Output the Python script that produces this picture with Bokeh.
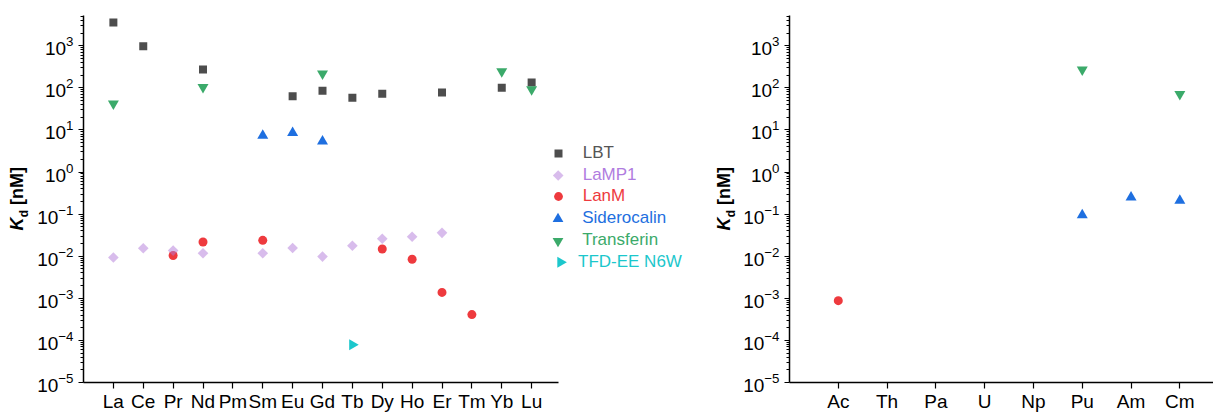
import math
from bokeh.plotting import figure
from bokeh.layouts import row
from bokeh.models import (FixedTicker, LogTickFormatter, Label, Legend, LegendItem, Range1d,
                          LinearScale)
from bokeh.embed import file_html
from bokeh.resources import INLINE

# ---------------- data ----------------
ln_elements = ["La", "Ce", "Pr", "Nd", "Pm", "Sm", "Eu", "Gd", "Tb", "Dy", "Ho", "Er", "Tm", "Yb", "Lu"]
an_elements = ["Ac", "Th", "Pa", "U", "Np", "Pu", "Am", "Cm"]

lbt_el = ["La", "Ce", "Nd", "Eu", "Gd", "Tb", "Dy", "Er", "Yb", "Lu"]
lbt_kd = [3600, 980, 272, 63, 85, 58, 73, 78, 101, 135]

lamp1_el = ["La", "Ce", "Pr", "Nd", "Sm", "Eu", "Gd", "Tb", "Dy", "Ho", "Er"]
lamp1_kd = [0.0093, 0.0155, 0.0136, 0.0118, 0.0118, 0.0157, 0.0098, 0.0178, 0.026, 0.029, 0.036]

lanm_el = ["Pr", "Nd", "Sm", "Dy", "Ho", "Er", "Tm"]
lanm_kd = [0.0104, 0.0218, 0.0239, 0.0149, 0.0085, 0.00138, 0.00041]

sidero_el = ["Sm", "Eu", "Gd"]
sidero_kd = [7.4, 8.5, 5.4]

transf_el = ["La", "Nd", "Gd", "Yb", "Lu"]
transf_kd = [42, 104, 218, 245, 92]

tfd_el = ["Tb"]
tfd_kd = [7.9e-5]

an_lanm_el = ["Ac"]
an_lanm_kd = [8.8e-4]
an_sidero_el = ["Pu", "Am", "Cm"]
an_sidero_kd = [0.095, 0.25, 0.21]
an_transf_el = ["Pu", "Cm"]
an_transf_kd = [272, 71]

series_names = ["LBT", "LaMP1", "LanM", "Siderocalin", "Transferin", "TFD-EE N6W"]

# ---------------- style ----------------
FONT = "Liberation Sans"
C_LBT = "#4D4D4D"
C_LAMP = "#B179D9"
C_LANM = "#EE3A3E"
C_SID = "#1E6FE0"
C_TRF = "#3BAA6A"
C_TFD = "#1CC7CC"
TXT_COLORS = ["#555555", "#B07CE0", C_LANM, C_SID, C_TRF, C_TFD]

H = 414
FRAME_T, FRAME_B = 15, 382          # frames of row siblings are aligned
Y_LO, Y_HI = 1e-5, 10 ** 3.72
major = [10.0 ** k for k in range(-5, 4)]
minor = [m * 10.0 ** k for k in range(-5, 4) for m in range(2, 10) if m * 10.0 ** k < Y_HI]


def make_fig(elements, width, mb_left, x_end, xstand):
    p = figure(width=width, height=H, y_axis_type="log",
               x_range=Range1d(0, x_end), y_range=Range1d(Y_LO, Y_HI),
               output_backend="svg", toolbar_location=None,
               min_border_left=mb_left, min_border_right=0,
               min_border_top=FRAME_T, min_border_bottom=H - FRAME_B)
    p.outline_line_color = None
    p.grid.visible = False
    p.background_fill_color = "white"
    p.border_fill_color = "white"

    xa = p.xaxis[0]
    xa.ticker = FixedTicker(ticks=list(range(1, len(elements) + 1)))
    xa.major_label_overrides = {i + 1: e for i, e in enumerate(elements)}
    xa.major_label_text_font = FONT
    xa.major_label_text_font_size = "19px"
    xa.major_label_text_color = "black"
    xa.major_label_standoff = xstand
    xa.major_tick_out = 6
    xa.major_tick_in = 0
    xa.minor_tick_line_color = None
    xa.axis_line_width = 1.5
    xa.major_tick_line_width = 1.2

    ya = p.yaxis[0]
    ya.ticker = FixedTicker(ticks=major, minor_ticks=minor)
    ya.formatter = LogTickFormatter()
    ya.major_label_text_font = FONT
    ya.major_label_text_font_size = "19px"
    ya.major_label_text_color = "black"
    ya.major_label_standoff = 5
    ya.major_tick_out = 5
    ya.major_tick_in = 0
    ya.minor_tick_out = 3
    ya.minor_tick_in = 0
    ya.axis_line_width = 1.5
    ya.major_tick_line_width = 1.2
    ya.minor_tick_line_width = 1
    return p


def label_fig(width, xbase):
    # narrow figure holding the rotated axis title  K_d [nM]; data y == page y (flipped)
    f = figure(width=width, height=H, x_range=Range1d(0, width), y_range=Range1d(H - FRAME_B, H - FRAME_T),
               output_backend="svg", toolbar_location=None,
               x_axis_location=None, y_axis_location=None,
               min_border_left=0, min_border_right=0,
               min_border_top=FRAME_T, min_border_bottom=H - FRAME_B)
    f.outline_line_color = None
    f.grid.visible = False
    common = dict(angle=math.pi / 2, text_font=FONT, text_baseline="middle",
                  text_align="center", text_color="black")
    f.add_layout(Label(x=xbase - 6.3, y=H - 223.5, text="K", text_font_size="18px",
                       text_font_style="bold italic", **common))
    f.add_layout(Label(x=xbase + 0.8, y=H - 213.2, text="d", text_font_size="12px",
                       text_font_style="bold", **common))
    f.add_layout(Label(x=xbase - 6.3, y=H - 185.5, text="[nM]", text_font_size="18px",
                       text_font_style="bold", **common))
    return f


def xs(els, elements):
    return [elements.index(e) + 1 for e in els]


# ---------------- left figure (lanthanides) ----------------
L1 = label_fig(30, 22.3)
p1 = make_fig(ln_elements, 678, 53, 20.92, 2)
p1.xaxis[0].bounds = (0, 15.9)

r_lbt = p1.scatter(xs(lbt_el, ln_elements), lbt_kd, marker="square", size=8,
                   fill_color=C_LBT, line_color=None)
r_lanm = p1.scatter(xs(lanm_el, ln_elements), lanm_kd, marker="circle", size=9,
                    fill_color=C_LANM, line_color=None)
r_lamp = p1.scatter(xs(lamp1_el, ln_elements), lamp1_kd, marker="square", size=7.5, angle=math.pi / 4,
                    fill_color=C_LAMP, fill_alpha=0.5, line_color=None)
r_sid = p1.scatter(xs(sidero_el, ln_elements), sidero_kd, marker="triangle", size=11,
                   fill_color=C_SID, line_color=None)
r_trf = p1.scatter(xs(transf_el, ln_elements), transf_kd, marker="inverted_triangle", size=11,
                   fill_color=C_TRF, line_color=None)
r_tfd = p1.scatter(xs(tfd_el, ln_elements), tfd_kd, marker="triangle", size=11, angle=-math.pi / 2,
                   fill_color=C_TFD, line_color=None)

# legend: keys whose shape the built-in legend cannot rotate are drawn on a pixel range
FRAME_L, FRAME_R = 83, 708
p1.extra_x_ranges = {"px": Range1d(0, FRAME_R - FRAME_L)}
p1.extra_y_ranges = {"px": Range1d(0, FRAME_B - FRAME_T)}
p1.extra_x_scales = {"px": LinearScale()}
p1.extra_y_scales = {"px": LinearScale()}

dummy_lamp = p1.scatter(x=[], y=[], marker="square", fill_alpha=0, line_alpha=0)
dummy_tfd = p1.scatter(x=[], y=[], marker="square", fill_alpha=0, line_alpha=0)

key_x = [557.7, 560.0]
key_y = [175.0, 261.7]
p1.scatter(x=[key_x[0] - FRAME_L], y=[FRAME_B - key_y[0]], x_range_name="px", y_range_name="px",
           marker="square", size=7.5, angle=math.pi / 4, fill_color=C_LAMP, fill_alpha=0.5, line_color=None)
p1.scatter(x=[key_x[1] - FRAME_L], y=[FRAME_B - key_y[1]], x_range_name="px", y_range_name="px",
           marker="triangle", size=11, angle=-math.pi / 2, fill_color=C_TFD, line_color=None)

legend_rend = [r_lbt, dummy_lamp, r_lanm, r_sid, r_trf, dummy_tfd]
glyph_sz = [20, 20, 22, 27, 27, 20]          # legend key box -> key size = 0.4 * box
centers_x = [557.7, 557.7, 557.7, 557.7, 557.7, 560.0]
centers_y = [153.3, 175, 196, 218.3, 240, 261.7]
text_x = [582.3, 582.3, 582.3, 582.3, 582.3, 578.3]
for i, name in enumerate(series_names):
    g = glyph_sz[i]
    x0 = centers_x[i] - g / 2
    hgt = max(g, 20)
    lg = Legend(items=[LegendItem(label=name, renderers=[legend_rend[i]])],
                location=(x0 - FRAME_L, FRAME_B - centers_y[i] - hgt / 2),
                padding=0, margin=0, spacing=0,
                border_line_color=None, background_fill_alpha=0,
                glyph_width=g, glyph_height=g, label_standoff=int(round(text_x[i] - (x0 + g))),
                label_text_font=FONT, label_text_font_size="17px",
                label_text_color=TXT_COLORS[i], label_height=20)
    p1.add_layout(lg, "center")

# ---------------- right figure (actinides) ----------------
L2 = label_fig(30, 22)
p2 = make_fig(an_elements, 475, 51, 8.69, 2)

p2.scatter(xs(an_lanm_el, an_elements), an_lanm_kd, marker="circle", size=9,
           fill_color=C_LANM, line_color=None)
p2.scatter(xs(an_sidero_el, an_elements), an_sidero_kd, marker="triangle", size=11,
           fill_color=C_SID, line_color=None)
p2.scatter(xs(an_transf_el, an_elements), an_transf_kd, marker="inverted_triangle", size=11,
           fill_color=C_TRF, line_color=None)

layout = row(L1, p1, L2, p2, spacing=0)
open("out.html", "w").write(file_html(layout, INLINE))
